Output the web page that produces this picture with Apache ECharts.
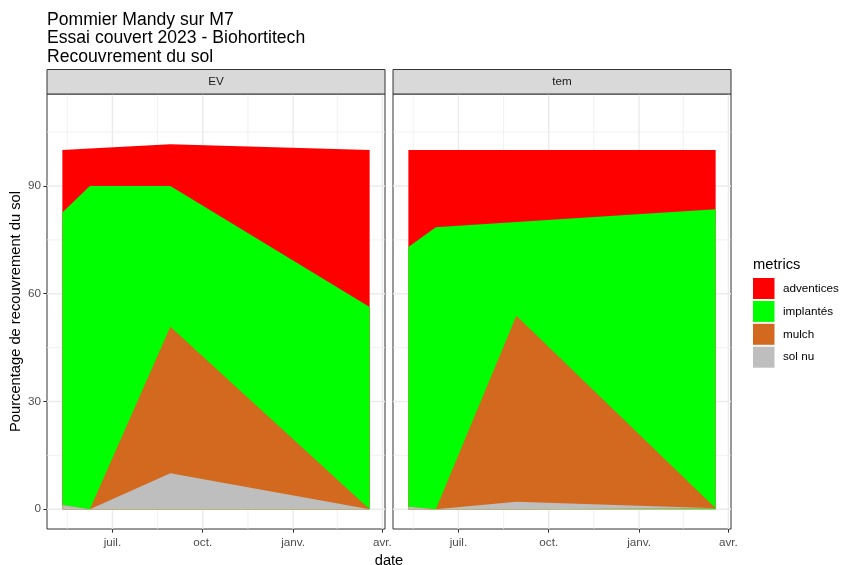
<!DOCTYPE html>
<html>
<head>
<meta charset="utf-8">
<script src="https://cdn.jsdelivr.net/npm/echarts@6/dist/echarts.min.js"></script>
<style>
html,body{margin:0;padding:0;background:#fff;}
#chart{width:841px;height:565px;}
</style>
</head>
<body>
<div id="chart"></div>
<script>
// ---- data ----
const dates = ['2023-05-11', '2023-06-08', '2023-08-29', '2024-03-19'];
const facets = ['EV', 'tem'];
const metrics = ['adventices', 'implantés', 'mulch', 'sol nu'];
const metricColors = ['#FF0000', '#00FF00', '#D2691E', '#BEBEBE'];

const adventicesEV = [17.4, 10.4, 11.6, 43.7];
const implantesEV  = [81.4, 90.0, 39.2, 56.3];
const mulchEV      = [0, 0, 40.8, 0];
const solNuEV      = [1.2, 0, 10.0, 0];

const adventicesTem = [27.0, 21.5, 20.0, 16.5];
const implantesTem  = [72.3, 78.5, 26.1, 83.2];
const mulchTem      = [0, 0, 51.8, 0];
const solNuTem      = [0.7, 0, 2.1, 0.3];

const xTickDates  = ['2023-07-01', '2023-10-01', '2024-01-01', '2024-04-01'];
const xTickLabels = ['juil.', 'oct.', 'janv.', 'avr.'];
const xMinorDates = ['2023-05-16', '2023-08-16', '2023-11-16', '2024-02-15'];
const yTicks = [0, 30, 60, 90];
const yMinor = [15, 45, 75, 105];

// ---- helpers ----
const FONT = "'Liberation Sans', Arial, sans-serif";
const EPOCH = Date.UTC(2023, 0, 1);
// x positions are expressed as day numbers since 2023-01-01
const dayOf = d => { const p = d.split('-').map(Number); return Math.round((Date.UTC(p[0], p[1] - 1, p[2]) - EPOCH) / 86400000); };
const xs = dates.map(dayOf);
const range = xs[xs.length - 1] - xs[0];
const xMin = xs[0] - 0.05 * range;
const xMax = xs[xs.length - 1] + 0.05 * range;
const yMin = -5.5, yMax = 115.6;
const tickDays = xTickDates.map(dayOf);
const labelFor = v => { const i = tickDays.indexOf(Math.round(v)); return i >= 0 ? xTickLabels[i] : ''; };

const dataByFacet = [
  { 'adventices': adventicesEV, 'implantés': implantesEV, 'mulch': mulchEV, 'sol nu': solNuEV },
  { 'adventices': adventicesTem, 'implantés': implantesTem, 'mulch': mulchTem, 'sol nu': solNuTem }
];

const panelTop = 94, panelH = 435, panelW = 338;
const panelLefts = [47, 393];

const grids = [], xAxes = [], yAxes = [], series = [], graphics = [];

panelLefts.forEach((left, gi) => {
  grids.push({ left: left, top: panelTop, width: panelW, height: panelH, show: true,
    backgroundColor: '#FFFFFF', borderColor: '#333333', borderWidth: 1, containLabel: false });
  xAxes.push({
    type: 'value', gridIndex: gi, min: xMin, max: xMax,
    axisLine: { show: false, onZero: false },
    splitLine: { show: false },
    axisTick: { show: true, customValues: tickDays, length: 3.7, lineStyle: { color: '#333333', width: 1 } },
    axisLabel: { show: true, customValues: tickDays, formatter: labelFor, color: '#4D4D4D',
      fontSize: 11.7, fontFamily: FONT, margin: 7.5 }
  });
  yAxes.push({
    type: 'value', gridIndex: gi, min: yMin, max: yMax,
    axisLine: { show: false, onZero: false },
    splitLine: { show: false },
    axisTick: { show: gi === 0, customValues: yTicks, length: 3.7, lineStyle: { color: '#333333', width: 1 } },
    axisLabel: { show: gi === 0, customValues: yTicks, color: '#4D4D4D', fontSize: 11.7,
      fontFamily: FONT, margin: 6 }
  });

  // grid lines through the axis scales
  const gl = [];
  tickDays.forEach(v => gl.push([v, 0, 1.4]));
  xMinorDates.map(dayOf).forEach(v => gl.push([v, 0, 0.7]));
  yTicks.forEach(v => gl.push([v, 1, 1.4]));
  yMinor.forEach(v => gl.push([v, 1, 0.7]));
  series.push({
    type: 'custom', xAxisIndex: gi, yAxisIndex: gi, z: 1, silent: true,
    data: gl,
    renderItem: function (params, api) {
      const cs = params.coordSys;
      const v = api.value(0), dir = api.value(1), w = api.value(2);
      if (dir === 0) {
        const x = api.coord([v, 0])[0];
        if (x < cs.x || x > cs.x + cs.width) return null;
        return { type: 'line', shape: { x1: x, y1: cs.y, x2: x, y2: cs.y + cs.height },
          style: { stroke: '#EBEBEB', lineWidth: w } };
      } else {
        const y = api.coord([xMin, v])[1];
        return { type: 'line', shape: { x1: cs.x, y1: y, x2: cs.x + cs.width, y2: y },
          style: { stroke: '#EBEBEB', lineWidth: w } };
      }
    }
  });

  // stacked areas: each layer is filled from 0 up to its cumulative top; the
  // upper layers are drawn first so that lower layers paint over them.
  const bottomUp = ['sol nu', 'mulch', 'implantés', 'adventices'];
  const cum = {};
  let running = xs.map(() => 0);
  bottomUp.forEach(m => {
    running = running.map((r, i) => r + dataByFacet[gi][m][i]);
    cum[m] = running.slice();
  });
  bottomUp.slice().reverse().forEach((m, k) => {
    const col = metricColors[metrics.indexOf(m)];
    series.push({
      name: m, type: 'line', xAxisIndex: gi, yAxisIndex: gi, z: 2, zlevel: 0,
      data: xs.map((x, i) => [x, cum[m][i]]),
      symbol: 'none', showSymbol: false, smooth: false,
      lineStyle: { width: 0, color: col },
      itemStyle: { color: col },
      areaStyle: { color: col, opacity: 1, origin: 0 },
      color: col, silent: true
    });
  });

  // facet strip
  graphics.push({ type: 'rect', shape: { x: left, y: 69.5, width: panelW, height: panelTop - 69.5 },
    style: { fill: '#D9D9D9', stroke: '#333333', lineWidth: 1 }, z: 10 });
  graphics.push({ type: 'text', x: left + panelW / 2, y: (69.5 + panelTop) / 2,
    style: { text: facets[gi], fill: '#1A1A1A', font: '11.7px ' + FONT, align: 'center', verticalAlign: 'middle' }, z: 11 });
});

// axis titles & legend title
graphics.push({ type: 'text', x: 16, y: panelTop + panelH / 2, rotation: Math.PI / 2,
  style: { text: 'Pourcentage de recouvrement du sol', fill: '#000000', font: '14.7px ' + FONT,
    align: 'center', verticalAlign: 'middle' } });
graphics.push({ type: 'text', x: (panelLefts[0] + panelLefts[1] + panelW) / 2, y: 561,
  style: { text: 'date', fill: '#000000', font: '14.7px ' + FONT, align: 'center', verticalAlign: 'middle' } });
graphics.push({ type: 'text', x: 753, y: 265,
  style: { text: 'metrics', fill: '#000000', font: '14.7px ' + FONT, align: 'left', verticalAlign: 'middle' } });

const chart = echarts.init(document.getElementById('chart'), null, { renderer: 'canvas' });
chart.setOption({
  animation: false,
  backgroundColor: '#FFFFFF',
  title: {
    text: 'Pommier Mandy sur M7\nEssai couvert 2023 - Biohortitech\nRecouvrement du sol',
    left: 42, top: 6,
    textStyle: { fontSize: 17.6, fontWeight: 'normal', color: '#000000', fontFamily: FONT, lineHeight: 18.3 }
  },
  legend: {
    orient: 'vertical', left: 753, top: 278, padding: 0,
    itemWidth: 21.5, itemHeight: 21, itemGap: 1.9, icon: 'rect',
    data: metrics.map((m, i) => ({ name: m, itemStyle: { color: metricColors[i], borderWidth: 0 } })),
    textStyle: { fontSize: 11.7, color: '#000000', fontFamily: FONT, padding: [0, 0, 0, 3.5] },
    selectedMode: false
  },
  grid: grids, xAxis: xAxes, yAxis: yAxes, series: series, graphic: graphics
});
</script>
</body>
</html>
